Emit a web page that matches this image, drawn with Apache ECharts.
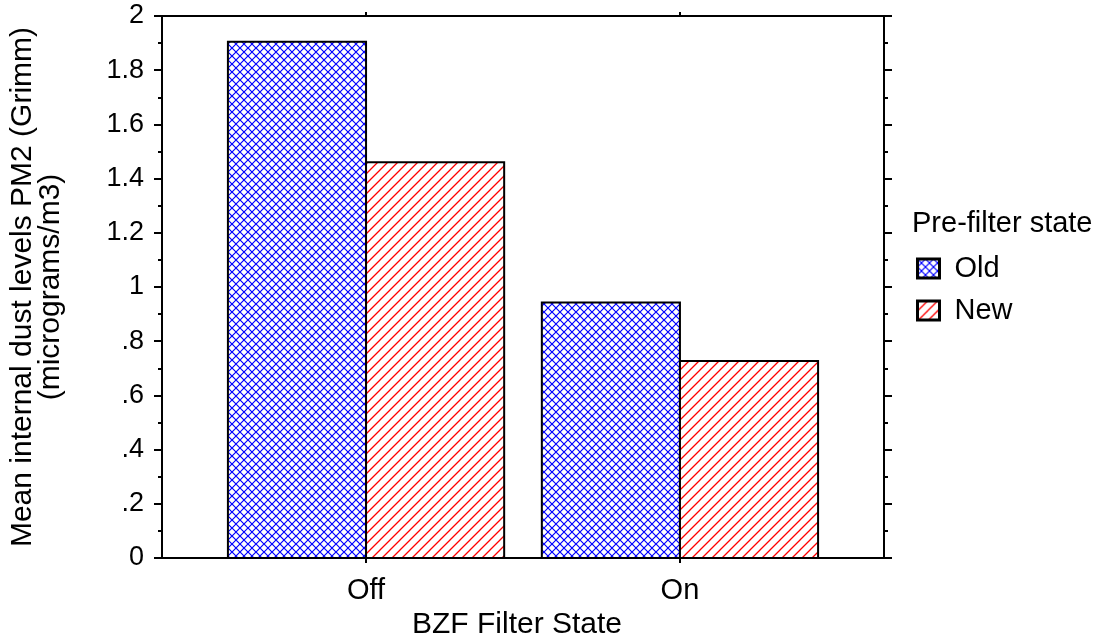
<!DOCTYPE html>
<html>
<head>
<meta charset="utf-8">
<script src="https://cdn.jsdelivr.net/npm/echarts@6/dist/echarts.min.js"></script>
<style>
html,body{margin:0;padding:0;background:#fff;}
#chart{width:1099px;height:639px;}
</style>
</head>
<body>
<div id="chart"></div>
<script>
// ---- data ----
const categories = ['Off', 'On'];
const seriesNames = ['Old', 'New'];
const oldValues = [1.905, 0.943];
const newValues = [1.46, 0.727];
const yTickValues = [0, 0.2, 0.4, 0.6, 0.8, 1, 1.2, 1.4, 1.6, 1.8, 2];
const yTickLabels = ['0', '.2', '.4', '.6', '.8', '1', '1.2', '1.4', '1.6', '1.8', '2'];
const xAxisTitle = 'BZF Filter State';
const yAxisTitle = 'Mean internal dust levels PM2 (Grimm)\n(micrograms/m3)';
const legendTitle = 'Pre-filter state';

// ---- patterns ----
function makeCrossHatch() {
  const s = 8, c = document.createElement('canvas');
  c.width = s; c.height = s;
  const g = c.getContext('2d');
  g.fillStyle = '#fff'; g.fillRect(0, 0, s, s);
  g.strokeStyle = '#0000ff'; g.lineWidth = 1.2;
  g.beginPath();
  g.moveTo(-1, -1); g.lineTo(s + 1, s + 1);
  g.moveTo(-1, s + 1); g.lineTo(s + 1, -1);
  g.stroke();
  return c;
}
function makeDiagHatch() {
  const s = 10, c = document.createElement('canvas');
  c.width = s; c.height = s;
  const g = c.getContext('2d');
  g.fillStyle = '#fff'; g.fillRect(0, 0, s, s);
  g.strokeStyle = '#ff0000'; g.lineWidth = 1.3;
  g.beginPath();
  g.moveTo(-1, s + 1); g.lineTo(s + 1, -1);
  g.moveTo(-1, 1); g.lineTo(1, -1);
  g.moveTo(s - 1, s + 1); g.lineTo(s + 1, s - 1);
  g.stroke();
  return c;
}
const patOld = { image: makeCrossHatch(), repeat: 'repeat' };
const patNew = { image: makeDiagHatch(), repeat: 'repeat' };

const FONT = 'Liberation Sans, Arial, sans-serif';
const FS_TICK = 27;
const FS_TEXT = 29;
const FS_NAME = 30;
const BAR_W = 0.44;

function makeRender(side, pattern) {
  return function (params, api) {
    const x = api.value(0), y = api.value(1);
    const x0 = side < 0 ? x - BAR_W : x;
    const x1 = side < 0 ? x : x + BAR_W;
    const pTop = api.coord([x0, y]);
    const pBot = api.coord([x1, 0]);
    return {
      type: 'rect',
      shape: { x: pTop[0], y: pTop[1], width: pBot[0] - pTop[0], height: pBot[1] - pTop[1] },
      style: { fill: pattern, stroke: '#000', lineWidth: 2 }
    };
  };
}

const xPos = categories.map((c, i) => i + 1);
const oldData = oldValues.map((v, i) => [xPos[i], v]);
const newData = newValues.map((v, i) => [xPos[i], v]);

const chart = echarts.init(document.getElementById('chart'), null, { renderer: 'canvas' });
const axisLineStyle = { color: '#000', width: 2 };
const option = {
  animation: false,
  backgroundColor: '#fff',
  textStyle: { fontFamily: FONT },
  title: {
    text: legendTitle, left: 907, top: 204,
    textStyle: { fontFamily: FONT, fontSize: FS_TEXT, fontWeight: 'normal', color: '#000' }
  },
  legend: {
    orient: 'vertical', left: 911, top: 249,
    itemWidth: 22, itemHeight: 19, itemGap: 13,
    icon: 'rect',
    data: seriesNames,
    itemStyle: { borderColor: '#000', borderWidth: 3 },
    textStyle: { fontFamily: FONT, fontSize: FS_TEXT, color: '#000', padding: [0, 0, 0, 10] }
  },
  grid: { left: 162, right: 215, top: 16, bottom: 81, containLabel: false, outerBoundsMode: 'none' },
  xAxis: [{
    type: 'value', position: 'bottom', min: 0.35, max: 2.65,
    axisLine: { show: true, onZero: false, lineStyle: axisLineStyle },
    axisTick: { show: true, customValues: xPos, length: 5, lineStyle: { color: '#000', width: 2 } },
    axisLabel: {
      customValues: xPos, formatter: v => categories[Math.round(v) - 1] || '',
      fontFamily: FONT, fontSize: FS_TEXT, color: '#000', margin: 18
    },
    splitLine: { show: false },
    name: xAxisTitle, nameLocation: 'middle', nameGap: 46,
    nameTextStyle: { fontFamily: FONT, fontSize: FS_NAME, color: '#000', padding: [0, 12, 0, 0] }
  }, {
    type: 'value', position: 'top', min: 0.35, max: 2.65,
    axisLine: { show: true, onZero: false, lineStyle: axisLineStyle },
    axisTick: { show: true, customValues: xPos, length: 4, lineStyle: { color: '#000', width: 2 } },
    axisLabel: { show: false },
    splitLine: { show: false }
  }],
  yAxis: [{
    type: 'value', position: 'left', min: 0, max: 2, interval: 0.2,
    axisLine: { show: true, onZero: false, lineStyle: axisLineStyle },
    axisTick: { show: true, length: 8, lineStyle: { color: '#000', width: 2 } },
    minorTick: { show: true, splitNumber: 2, length: 4, lineStyle: { color: '#000', width: 2 } },
    axisLabel: {
      formatter: v => { const i = yTickValues.findIndex(t => Math.abs(t - v) < 1e-6); return i >= 0 ? yTickLabels[i] : ''; },
      fontFamily: FONT, fontSize: FS_TICK, color: '#000', margin: 18
    },
    splitLine: { show: false },
    name: yAxisTitle, nameLocation: 'middle', nameGap: 97, nameRotate: 90,
    nameTextStyle: { fontFamily: FONT, fontSize: FS_NAME, color: '#000', lineHeight: 28 }
  }, {
    type: 'value', position: 'right', min: 0, max: 2, interval: 0.2,
    axisLine: { show: true, onZero: false, lineStyle: axisLineStyle },
    axisTick: { show: true, length: 8, lineStyle: { color: '#000', width: 2 } },
    minorTick: { show: true, splitNumber: 2, length: 4, lineStyle: { color: '#000', width: 2 } },
    axisLabel: { show: false },
    splitLine: { show: false }
  }],
  series: [{
    name: seriesNames[0], type: 'custom', xAxisIndex: 0, yAxisIndex: 0,
    itemStyle: { color: patOld, borderColor: '#000', borderWidth: 2 },
    renderItem: makeRender(-1, patOld), data: oldData, encode: { x: 0, y: 1 }
  }, {
    name: seriesNames[1], type: 'custom', xAxisIndex: 0, yAxisIndex: 0,
    itemStyle: { color: patNew, borderColor: '#000', borderWidth: 2 },
    renderItem: makeRender(1, patNew), data: newData, encode: { x: 0, y: 1 }
  }]
};
chart.setOption(option);
</script>
</body>
</html>
